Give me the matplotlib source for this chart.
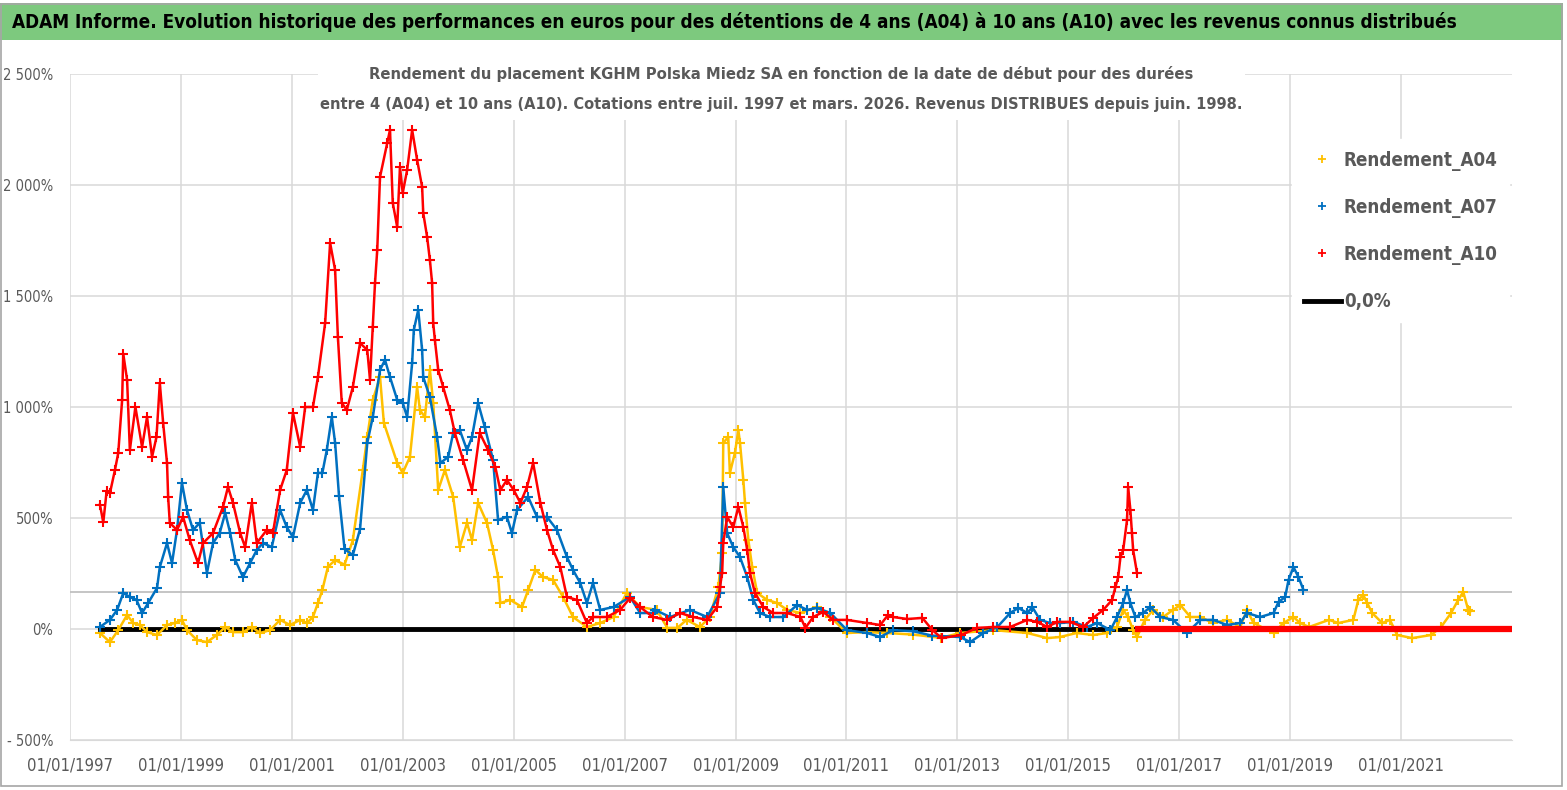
import matplotlib
matplotlib.use("Agg")
import matplotlib.pyplot as plt
from matplotlib import font_manager
from matplotlib.patches import Rectangle
import numpy as np
import pandas as pd
import os

TITLE = ("ADAM Informe. Evolution historique des performances en euros pour des détentions "
         "de 4 ans (A04) à 10 ans (A10) avec les revenus connus distribués")
SUB1 = "Rendement du placement KGHM Polska Miedz SA en fonction de la date de début pour des durées"
SUB2 = ("entre 4 (A04) et 10 ans (A10). Cotations entre juil. 1997 et mars. 2026. "
        "Revenus DISTRIBUES depuis juin. 1998.")

# dates as decimal years, values in %
a04_t = [1997.54, 1997.72, 1997.87, 1998.03, 1998.14, 1998.26, 1998.39, 1998.57, 1998.75, 1998.89,
         1999.02, 1999.11, 1999.29, 1999.47, 1999.65, 1999.80, 1999.94, 2000.12, 2000.28, 2000.43,
         2000.61, 2000.79, 2000.97, 2001.15, 2001.27, 2001.38, 2001.47, 2001.55, 2001.65, 2001.78,
         2001.95, 2002.10, 2002.28, 2002.36, 2002.46, 2002.59, 2002.66, 2002.90, 2003.00, 2003.13,
         2003.26, 2003.31, 2003.40, 2003.49, 2003.55, 2003.64, 2003.76, 2003.91, 2004.03, 2004.16,
         2004.25, 2004.36, 2004.52, 2004.63, 2004.72, 2004.76, 2004.94, 2005.15, 2005.26, 2005.39,
         2005.53, 2005.71, 2005.89, 2006.07, 2006.32, 2006.56, 2006.80, 2007.04, 2007.28, 2007.58,
         2007.77, 2007.95, 2008.12, 2008.36, 2008.54, 2008.69, 2008.76, 2008.78, 2008.87, 2008.90,
         2008.99, 2009.05, 2009.08, 2009.14, 2009.17, 2009.23, 2009.30, 2009.39, 2009.57, 2009.75,
         2009.93, 2010.17, 2010.47, 2010.71, 2011.01, 2011.37, 2011.73, 2012.20, 2012.70, 2013.05,
         2013.65, 2014.26, 2014.62, 2014.85, 2015.15, 2015.45, 2015.70, 2015.88, 2015.99, 2016.08,
         2016.17, 2016.24, 2016.38, 2016.53, 2016.71, 2016.89, 2017.02, 2017.20, 2017.38, 2017.61,
         2017.86, 2018.10, 2018.22, 2018.34, 2018.70, 2018.88, 2019.06, 2019.18, 2019.34, 2019.70,
         2019.87, 2020.14, 2020.23, 2020.32, 2020.39, 2020.48, 2020.66, 2020.80, 2020.93, 2021.20,
         2021.54, 2021.72, 2021.90, 2022.03, 2022.12, 2022.21, 2022.25]
a04_v = [-18, -59, -5, 63, 27, 18, -14, -27, 18, 27,
         41, -5, -50, -59, -27, 9, -14, -14, 9, -18,
         -5, 41, 18, 41, 27, 54, 117, 176, 280, 310,
         290, 400, 716, 865, 1032, 1135, 928, 748, 703, 775,
         1090, 986, 955, 1167, 1018, 626, 716, 595, 369, 478,
         401, 568, 478, 356, 234, 117, 131, 99, 176, 266,
         234, 221, 144, 54, 9, 27, 54, 162, 99, 86,
         5, 5, 41, 9, 54, 189, 342, 838, 865, 703,
         793, 896, 838, 671, 568, 401, 279, 162, 131, 117,
         86, 72, 99, 54, -18, -14, -18, -25, -40, -18,
         -5, -18, -41, -36, -18, -27, -18, 9, 86, 54,
         -5, -36, 41, 86, 54, 86, 108, 54, 54, 27,
         41, 9, 86, 27, -18, 27, 54, 27, 9, 41,
         27, 41, 131, 153, 117, 72, 27, 41, -27, -41,
         -27, 9, 72, 131, 167, 86, 80]

a07_t = [1997.54, 1997.72, 1997.85, 1997.96, 1998.08, 1998.20, 1998.30, 1998.41, 1998.57, 1998.62,
         1998.75, 1998.84, 1998.93, 1999.02, 1999.11, 1999.22, 1999.34, 1999.47, 1999.58, 1999.70,
         1999.80, 1999.89, 1999.98, 2000.12, 2000.25, 2000.37, 2000.48, 2000.64, 2000.79, 2000.91,
         2001.02, 2001.15, 2001.27, 2001.38, 2001.47, 2001.55, 2001.63, 2001.72, 2001.78, 2001.85,
         2001.95, 2002.10, 2002.23, 2002.36, 2002.46, 2002.59, 2002.68, 2002.77, 2002.90, 2003.00,
         2003.08, 2003.17, 2003.20, 2003.28, 2003.35, 2003.37, 2003.49, 2003.62, 2003.68, 2003.82,
         2003.91, 2004.03, 2004.16, 2004.25, 2004.36, 2004.48, 2004.63, 2004.72, 2004.88, 2004.97,
         2005.06, 2005.26, 2005.42, 2005.60, 2005.78, 2005.96, 2006.07, 2006.20, 2006.32, 2006.43,
         2006.56, 2006.80, 2007.10, 2007.28, 2007.51, 2007.55, 2007.82, 2008.18, 2008.49, 2008.72,
         2008.78, 2008.85, 2008.96, 2009.08, 2009.21, 2009.32, 2009.44, 2009.62, 2009.86, 2010.11,
         2010.29, 2010.47, 2010.71, 2011.01, 2011.37, 2011.61, 2011.84, 2012.20, 2012.55, 2013.05,
         2013.23, 2013.47, 2013.72, 2013.95, 2014.10, 2014.26, 2014.35, 2014.49, 2014.67, 2014.85,
         2015.09, 2015.34, 2015.52, 2015.76, 2015.88, 2015.99, 2016.06, 2016.12, 2016.21, 2016.35,
         2016.48, 2016.66, 2016.89, 2017.14, 2017.38, 2017.61, 2017.86, 2018.10, 2018.22, 2018.46,
         2018.70, 2018.79, 2018.91, 2018.97, 2019.06, 2019.15, 2019.24]
a07_v = [9, 41, 86, 162, 144, 131, 72, 117, 185, 279,
         387, 297, 446, 658, 536, 446, 478, 252, 387, 432,
         523, 432, 311, 234, 297, 356, 387, 369, 536, 459,
         414, 568, 626, 536, 703, 703, 806, 955, 838, 600,
         360, 333, 450, 838, 955, 1167, 1212, 1135, 1032, 1018,
         955, 1198, 1347, 1437, 1257, 1135, 1045, 865, 748, 775,
         883, 896, 806, 865, 1018, 910, 761, 491, 505, 432,
         536, 595, 505, 505, 446, 324, 266, 207, 117, 207,
         86, 99, 144, 72, 72, 86, 54, 86, 54, 162,
         640, 432, 369, 324, 234, 131, 72, 54, 54, 108,
         86, 95, 72, -5, -18, -36, -5, -10, -30, -36,
         -59, -18, 9, 72, 95, 72, 99, 41, 27, 27,
         32, 9, 27, -5, 54, 117, 176, 117, 54, 72,
         99, 54, 41, -18, 41, 41, 18, 27, 72, 54,
         72, 122, 144, 221, 279, 234, 176]

a10_t = [1997.54, 1997.60, 1997.66, 1997.72, 1997.81, 1997.87, 1997.94, 1997.96, 1998.03, 1998.08,
         1998.18, 1998.30, 1998.39, 1998.48, 1998.56, 1998.62, 1998.68, 1998.75, 1998.77, 1998.80,
         1998.93, 1999.04, 1999.16, 1999.31, 1999.40, 1999.58, 1999.76, 1999.85, 1999.94, 2000.07,
         2000.16, 2000.28, 2000.37, 2000.55, 2000.66, 2000.79, 2000.91, 2001.02, 2001.15, 2001.24,
         2001.38, 2001.47, 2001.60, 2001.69, 2001.78, 2001.83, 2001.90, 2001.99, 2002.10, 2002.23,
         2002.36, 2002.41, 2002.46, 2002.50, 2002.54, 2002.59, 2002.72, 2002.77, 2002.82, 2002.90,
         2002.95, 2003.00, 2003.08, 2003.17, 2003.26, 2003.35, 2003.37, 2003.44, 2003.49, 2003.53,
         2003.55, 2003.58, 2003.64, 2003.73, 2003.85, 2003.94, 2004.09, 2004.25, 2004.39, 2004.54,
         2004.67, 2004.76, 2004.88, 2005.00, 2005.12, 2005.24, 2005.35, 2005.48, 2005.60, 2005.71,
         2005.84, 2005.96, 2006.14, 2006.32, 2006.43, 2006.68, 2006.92, 2007.10, 2007.28, 2007.51,
         2007.77, 2008.00, 2008.24, 2008.49, 2008.67, 2008.72, 2008.76, 2008.78, 2008.85, 2008.96,
         2009.05, 2009.14, 2009.21, 2009.26, 2009.35, 2009.50, 2009.68, 2009.93, 2010.17, 2010.26,
         2010.40, 2010.58, 2010.76, 2011.01, 2011.37, 2011.61, 2011.75, 2011.84, 2012.10, 2012.37,
         2012.55, 2012.72, 2013.07, 2013.35, 2013.65, 2013.95, 2014.26, 2014.44, 2014.62, 2014.80,
         2015.03, 2015.27, 2015.45, 2015.63, 2015.79, 2015.85, 2015.90, 2015.94, 2015.99, 2016.06,
         2016.08, 2016.12, 2016.15, 2016.17, 2016.24]
a10_v = [560, 480, 620, 612, 716, 793, 1032, 1240, 1122, 806,
         1000, 820, 955, 775, 865, 1108, 928, 748, 595, 478,
         446, 505, 401, 297, 387, 432, 550, 640, 568, 432,
         369, 568, 387, 446, 432, 626, 716, 973, 820, 1000,
         1000, 1135, 1378, 1739, 1617, 1315, 1018, 986, 1090, 1288,
         1257, 1122, 1360, 1559, 1707, 2036, 2189, 2248, 1919, 1811,
         2081, 1964, 2068, 2248, 2113, 1991, 1874, 1766, 1662, 1559,
         1378, 1302, 1167, 1090, 986, 883, 761, 626, 883, 806,
         730, 626, 671, 626, 568, 640, 748, 568, 446, 356,
         279, 144, 131, 27, 54, 54, 86, 140, 99, 54,
         41, 72, 54, 41, 99, 189, 252, 387, 505, 459,
         550, 459, 356, 252, 162, 99, 72, 72, 54, 5,
         54, 77, 41, 41, 27, 18, 63, 54, 45, 50,
         -5, -41, -27, 5, 9, 9, 41, 32, 9, 32,
         32, 9, 50, 86, 131, 189, 234, 324, 356, 491,
         640, 536, 432, 356, 252]
# A10 flat at 0 % after mid-2016
a10_flat_t = [2016.26, 2017.0, 2018.0, 2019.0, 2020.0, 2021.0, 2022.0, 2022.99]
a10_flat_v = [0, 0, 0, 0, 0, 0, 0, 0]

zero_t = [1997.54, 2022.99]
zero_v = [0, 0]
ref_level = 167

x_tick_years = [1997, 1999, 2001, 2003, 2005, 2007, 2009, 2011, 2013, 2015, 2017, 2019, 2021]
y_ticks = [-500, 0, 500, 1000, 1500, 2000, 2500]
y_labels = ['- 500%', '0%', '500%', '1 000%', '1 500%', '2 000%', '2 500%']


def to_dates(years):
    out = []
    for y in years:
        yi = int(np.floor(y))
        out.append(pd.Timestamp(f'{yi}-01-01') + pd.Timedelta(days=(y - yi) * 365.25))
    return out


def find_font(cands):
    files = {os.path.basename(f.fname).lower(): f.fname for f in font_manager.fontManager.ttflist}
    for c in cands:
        if c.lower() in files:
            return files[c.lower()]
    return None


bold_file = find_font(['LiberationSansNarrow-Bold.ttf', 'DejaVuSansCondensed-Bold.ttf',
                       'Roboto-Bold.ttf', 'DejaVuSans-Bold.ttf'])
reg_file = find_font(['LiberationSansNarrow-Regular.ttf', 'DejaVuSansCondensed.ttf',
                      'Roboto-Regular.ttf', 'DejaVuSans.ttf'])


def fp(bold, size):
    f = bold_file if bold else reg_file
    if f:
        return font_manager.FontProperties(fname=f, size=size)
    return font_manager.FontProperties(family='DejaVu Sans', size=size,
                                       weight='bold' if bold else 'normal')


fig = plt.figure(figsize=(15.67, 7.9), dpi=100, facecolor='white')
W, H = 1567, 790
renderer = fig.canvas.get_renderer()


def fit_text(x, y, s, width_px, bold, **kw):
    t = fig.text(x, y, s, fontproperties=fp(bold, 12), **kw)
    w = t.get_window_extent(renderer).width
    t.set_fontproperties(fp(bold, 12 * width_px / w))
    return t


# title band and frame
fig.patches.append(Rectangle((0, 1 - 40 / H), 1563 / W, 37 / H, transform=fig.transFigure,
                             facecolor='#7dc97e', edgecolor='none', zorder=1))
fig.patches.append(Rectangle((1 / W, 4 / H), 1561 / W, 782 / H, transform=fig.transFigure,
                             facecolor='none', edgecolor='#a6a6a6', lw=1.2, zorder=2))
fit_text(12 / W, 1 - 22 / H, TITLE, 1445, True, color='black', ha='left', va='center')

ax = fig.add_axes([70 / W, 50 / H, 1442 / W, 666 / H])
ax.set_facecolor('white')

gray = '#595959'
ax.plot(to_dates(zero_t), zero_v, color='black', lw=3.5, zorder=2)
ax.axhline(ref_level, color='#c0c0c0', lw=1.3, zorder=1)

kw = dict(marker='+', markersize=7, mew=1.5, lw=1.8, zorder=3)
ax.plot(to_dates(a04_t), a04_v, color='#ffc000', **kw)
ax.plot(to_dates(a07_t), a07_v, color='#0070c0', **kw)
ax.plot(to_dates(a10_t), a10_v, color='#ff0000', **kw)
ax.plot(to_dates(a10_flat_t), a10_flat_v, color='#ff0000', lw=4.5, zorder=4)

ax.set_xlim(pd.Timestamp('1997-01-01'), pd.Timestamp('2023-01-01'))
ax.set_ylim(-500, 2500)
ax.set_yticks(y_ticks)
ax.set_yticklabels(y_labels)
tick_dates = [pd.Timestamp(f'{y}-01-01') for y in x_tick_years]
ax.set_xticks(tick_dates)
ax.set_xticklabels([d.strftime('%d/%m/%Y') for d in tick_dates])
ax.grid(True, color='#d9d9d9', lw=1.1, zorder=0)
ax.set_axisbelow(True)
for s in ['top', 'right', 'left']:
    ax.spines[s].set_visible(False)
ax.spines['bottom'].set_color('#d9d9d9')
ax.tick_params(length=0, colors=gray)
ax.tick_params(axis='y', pad=12)
ax.tick_params(axis='x', pad=12)
for lab in ax.get_yticklabels():
    lab.set_fontproperties(fp(False, 10.5))
for lab in ax.get_xticklabels():
    lab.set_fontproperties(fp(False, 12))

# subtitle in a white box
fig.patches.append(Rectangle((318 / W, 1 - 120 / H), 927 / W, 62 / H, transform=fig.transFigure,
                             facecolor='white', edgecolor='none', zorder=5))
fit_text(781 / W, 1 - 74 / H, SUB1, 822, True, color=gray, ha='center', va='center', zorder=6)
fit_text(781 / W, 1 - 104 / H, SUB2, 915, True, color=gray, ha='center', va='center', zorder=6)

# legend
handles = [
    plt.Line2D([], [], color='#ffc000', marker='+', ls='none', markersize=6, mew=1.3),
    plt.Line2D([], [], color='#0070c0', marker='+', ls='none', markersize=6, mew=1.3),
    plt.Line2D([], [], color='#ff0000', marker='+', ls='none', markersize=6, mew=1.3),
    plt.Line2D([], [], color='black', lw=3.5),
]
leg = ax.legend(handles, ['Rendement_A04', 'Rendement_A07', 'Rendement_A10', '0,0%'],
                loc='upper left', bbox_to_anchor=(1283 / W, 1 - 130 / H),
                bbox_transform=fig.transFigure, frameon=True, fancybox=False,
                edgecolor='white', facecolor='white', framealpha=1,
                prop=fp(True, 13.5), labelspacing=1.45,
                handlelength=2.0, handletextpad=0.15, borderpad=0.6)
for t in leg.get_texts():
    t.set_color(gray)

fig.savefig('out.png', dpi=100)
